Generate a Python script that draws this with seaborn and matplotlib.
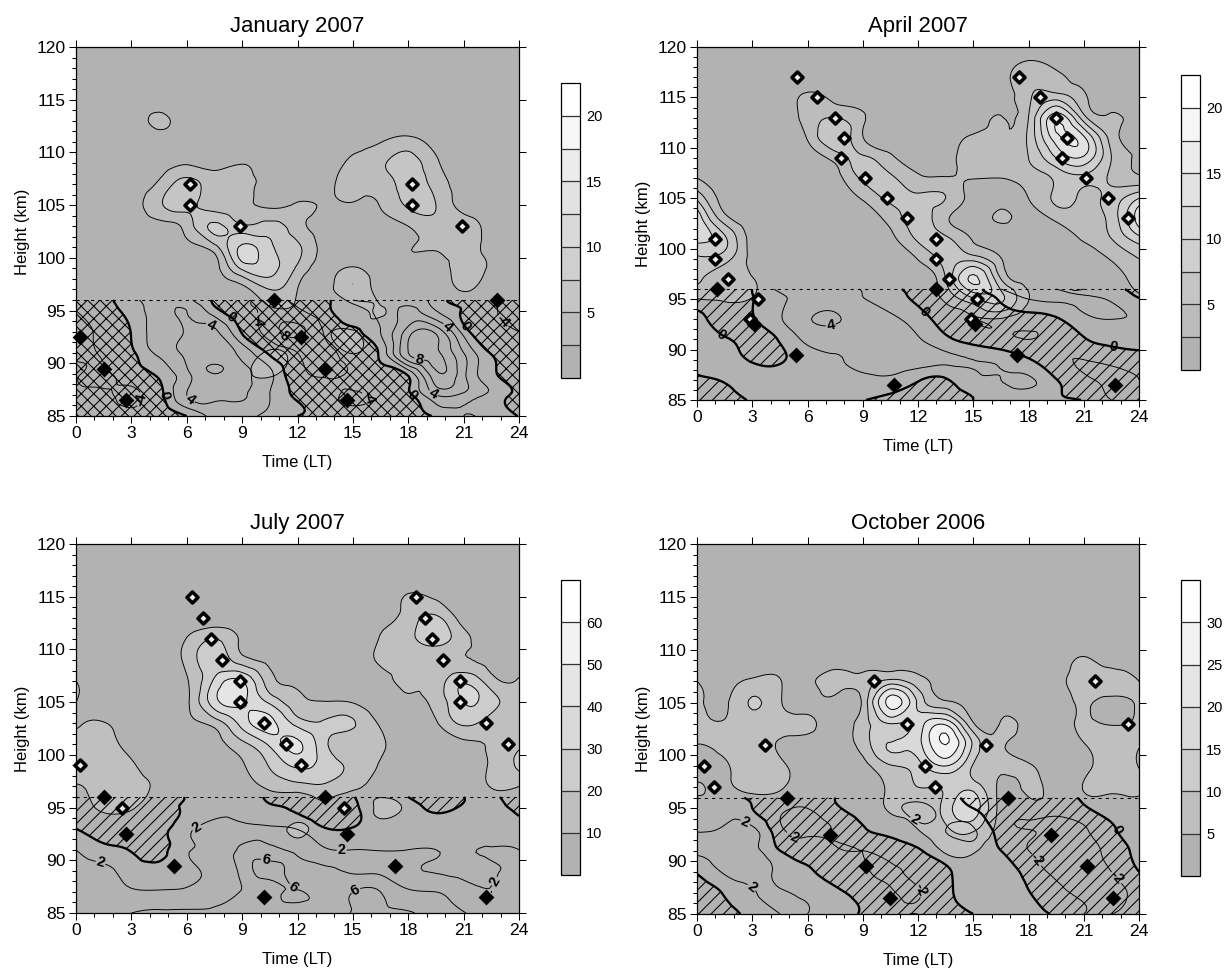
import numpy as np
import seaborn as sns
import matplotlib
matplotlib.use("Agg")
from matplotlib import pyplot as plt
from matplotlib import tri

sns.set_style("ticks", {'text.color': 'black', 'axes.labelcolor': 'black', 'xtick.color': 'black',
                        'ytick.color': 'black', 'axes.edgecolor': 'black'})
plt.rcParams['font.family'] = ['Liberation Sans', 'DejaVu Sans']
plt.rcParams['hatch.linewidth'] = 0.5
plt.rcParams['contour.negative_linestyle'] = 'solid'

hours = [0, 1.5, 3, 4.5, 6, 7.5, 9, 10.5, 12, 13.5, 15, 16.5, 18, 19.5, 21, 22.5, 24]
up_heights = [85, 87, 89, 91, 93, 95, 97, 99, 101, 103, 105, 107, 109, 111, 113, 115, 117, 119, 120]
low_heights = [85, 87, 89, 91, 93, 95, 96]
blank = [1] * 17

# upper fields, rows go from 85 km up to 120 km
jan_up = [
    blank,
    blank,
    [1, 1, 1, 1, 1, 1, 2, 2.8, 1.5, 1, 1, 1, 1, 1, 1, 1, 1],
    [1, 1, 1, 1, 1, 1, 1, 2.8, 1.5, 1, 2.6, 1, 1, 1, 1, 1, 1],
    [1, 1, 1, 1, 1, 1, 1, 1, 1, 2, 2.7, 1, 1, 1, 1, 1, 1],
    [1, 1, 1, 1, 1, 1, 1, 2, 2, 1, 1.5, 2.7, 1, 1, 1, 1, 1],
    [1, 1, 1, 1, 1, 1, 1.5, 5, 2.5, 1, 4.8, 1, 1, 1, 2.7, 1, 1],
    [1, 1, 1, 1, 1, 1.5, 8, 8.5, 4.5, 1.5, 2.8, 1, 1.8, 1.5, 3.5, 2, 1],
    [1, 1, 1, 1, 2, 4, 10.5, 8, 5.5, 1.5, 1, 1, 2.4, 2.7, 3.5, 1.5, 1],
    [1, 1, 1, 1.5, 3.5, 8, 5.5, 6, 3.5, 1.5, 1, 1.5, 2.5, 4, 4, 1.5, 1],
    [1, 1, 1.5, 4.5, 6, 3.5, 2.8, 2, 2.7, 2.3, 2.3, 2.6, 5.5, 5, 1.5, 1, 1],
    [1, 1, 1, 3, 6, 3.5, 3, 1.5, 1, 2, 3, 3.5, 6, 4, 1.5, 1, 1],
    [1, 1, 1, 1, 2.2, 1.5, 2.4, 1, 1, 1.5, 3, 4.5, 6, 3, 1, 1, 1],
    [1, 1, 1, 1, 1, 1, 1, 1, 1, 1, 1.5, 2.4, 3.5, 1.5, 1, 1, 1],
    [1, 1, 1, 3, 1, 1, 1, 1, 1, 1, 1, 1, 1, 1, 1, 1, 1],
    blank, blank, blank, blank,
]
apr_up = [
    blank,
    blank,
    blank,
    blank,
    [1, 1, 1, 1, 1, 1, 1, 1, 1, 1, 2, 2.2, 1, 1, 1, 1, 1],
    [2.4, 2.7, 2.4, 1, 1, 1, 1, 1, 1, 3, 7, 8, 2.6, 1, 1, 1, 2],
    [5.5, 3.5, 2.6, 1, 1, 1, 1, 1, 1.5, 5, 13, 5, 1.5, 1, 1, 1.5, 3.5],
    [7, 6, 1.8, 1, 1, 1, 1, 1, 2.6, 6, 6.5, 2.6, 1, 1, 1.2, 2.7, 5],
    [11, 8, 1.5, 1, 1, 1, 1, 1.8, 5.5, 5.5, 2.2, 1, 1, 1.5, 2.7, 5, 9],
    [12, 3.5, 1, 1, 1, 1, 1, 3.5, 6, 3, 1, 2.8, 1.5, 3, 3.5, 6, 14],
    [7, 1.5, 1, 1, 1, 1, 2.8, 5.5, 5.5, 5, 1.5, 1.5, 2.5, 5.5, 4.5, 6, 10],
    [2.5, 1, 1, 1, 1, 1.5, 5.5, 5.5, 3, 2.7, 2.6, 2.5, 3.5, 5.5, 6.5, 4.5, 3],
    [1, 1, 1, 1, 1.2, 3.5, 5.5, 3, 1.5, 1.6, 4, 3.5, 5, 10, 12, 5, 2.4],
    [1, 1, 1, 1, 2.7, 7, 2.6, 1.5, 1, 1, 3, 2.7, 5.5, 14, 13, 4, 1.8],
    [1, 1, 1, 1, 3.5, 5, 2.8, 1, 1, 1, 1, 2.6, 5, 14, 6, 2.8, 1],
    [1, 1, 1, 1, 3, 1.8, 1, 1, 1, 1, 1, 1.5, 4.5, 6.5, 3, 1.5, 1],
    [1, 1, 1, 1, 1, 1, 1, 1, 1, 1, 1, 1.8, 4, 3.2, 1.5, 1, 1],
    [1, 1, 1, 1, 1, 1, 1, 1, 1, 1, 1, 1, 2, 1, 1, 1, 1],
    blank,
]
bg = [3] * 17
jul_up = [
    bg,
    bg,
    bg,
    bg,
    [3, 3, 3, 3, 3, 3, 3, 3, 12, 3, 3, 6, 3, 3, 3, 3, 3],
    [5, 12, 11, 4, 3, 3, 3, 3, 3, 7, 4, 12, 8, 3, 3, 3, 3],
    [9, 13, 13, 8, 3, 3, 6, 12, 16, 18, 12, 7, 3, 3, 3, 10.5, 10],
    [18, 14, 11, 5, 3, 4, 9, 21, 32, 26, 17, 9, 3, 3, 3, 11.5, 22],
    [18, 14, 7, 3, 3, 6, 17, 32, 42, 22, 14, 11, 5, 4, 7, 11, 18],
    [8, 10.5, 4, 3, 8, 14, 34, 43, 26, 21, 21, 9, 7, 9, 22, 14, 14],
    [10, 3, 3, 3, 8, 36, 42, 28, 13, 10.5, 9.5, 4, 8, 13, 30, 24, 13],
    [10, 3, 3, 3, 9, 32, 40, 14, 8, 3, 5, 7, 12, 14, 28, 14, 11],
    [3, 3, 3, 3, 13, 26, 14, 8, 3, 3, 5, 11, 12, 12, 11, 7, 5],
    [3, 3, 3, 3, 10.5, 20, 8, 3, 3, 3, 4, 10.5, 17, 25, 13, 5, 3],
    [3, 3, 3, 3, 3, 3, 3, 3, 3, 3, 3, 7, 14, 22, 5, 3, 3],
    [3, 3, 3, 3, 3, 3, 3, 3, 3, 3, 3, 3, 11, 8, 3, 3, 3],
    bg, bg, bg,
]
oct_up = [
    bg,
    bg,
    bg,
    [3, 3, 3, 3, 3, 3, 3, 3, 3, 5.5, 5.5, 3, 3, 3, 3, 3, 3],
    [3, 3, 3, 3, 3, 3, 3, 3, 5, 9, 11, 3, 3, 3, 3, 3, 3],
    [3, 3, 3, 3, 3, 3, 3, 5.5, 7, 12, 18, 3, 3, 3, 3, 3, 3],
    [5.5, 4.5, 6, 5.5, 3, 3, 3, 6, 10, 11, 13, 4, 6, 3, 5.2, 6, 6],
    [3, 4.5, 7, 6, 3, 3, 3.5, 9.5, 13, 20, 9.5, 6, 5.5, 3, 3.8, 7, 4.8],
    [4.9, 6, 6, 4.5, 3, 3, 7, 15.5, 18, 30, 14, 5.5, 3, 3, 4.8, 7, 5.2],
    [6, 5.5, 7, 6.5, 6, 3, 7.5, 15, 17, 24, 5.5, 5.3, 3, 3, 5.5, 4.7, 5.5],
    [7, 4, 10.5, 5.5, 3, 3, 6, 27, 14, 6, 3, 3, 3, 3, 5.5, 3.5, 6],
    [5, 3.5, 6, 5.2, 4, 7, 6.5, 12, 7, 3.5, 3, 3, 3, 4, 7, 7.5, 5],
    [3, 3, 3, 3, 3, 3, 3, 3, 3, 3, 3, 3, 3, 3, 5.5, 3, 3],
    bg, bg, bg, bg, bg, bg,
]

# lower fields, rows 85 km to 96 km
jan_low = [
    [-2.5, -3, -3, -2, 0, 2.5, 2.5, 1.5, 0, -1.5, -3, -2.5, -1.5, 0.3, 2, 1.5, -0.1],
    [-3, -3.5, -4.5, -1, 4, 4.5, 4.2, 2, -0.5, -2.5, -4.5, -3, -0.6, 4, 3.5, 1.5, -1],
    [-3.5, -4.5, -2, 0.5, 3.5, 6, 4.5, 2.5, -2.5, -4.5, -3.5, -1.5, 0.5, 7.5, 4.5, 0.5, -2],
    [-5, -3.5, -0.5, 2.5, 4.5, 5.5, 3.3, -0.5, -4, -5, -2.5, 0.5, 8, 8.5, 4, -0.2, -3],
    [-5.5, -3, 0.1, 3, 4.2, 4.5, -0.3, -6, -9, -3.5, -0.3, 2, 7, 7.5, 1.2, -2.5, -4],
    [-4, -1.5, 1, 3, 4, 0.8, -2.5, -5, -4.5, -1, 1.5, 2.5, 4.5, 2, -0.3, -3.5, -5],
    [-3, -0.8, 1.5, 3, 2.5, -0.4, -3, -5, -3, -0.6, 2, 2.5, 3.5, 1.2, -1.5, -4, -5],
]
apr_low = [
    [-1.5, -0.8, 0.2, 1, 1.3, 1.2, 0.1, -0.8, -1, -1, 0, 1, 1.5, 0.5, -0.1, -2, -2],
    [-0.5, 0.2, 1, 1.3, 1.7, 1.9, 1.7, 1.6, 0.2, -0.2, 1.5, 2, 2.3, 0.1, -1.5, -2.5, -2],
    [0.5, 1, -0.3, -0.3, 1.3, 1.9, 2.4, 3, 2.9, 2.4, 2, 1.5, 0.2, -1.5, -2, -1.5, -0.7],
    [1.2, 0.3, -0.8, 0.2, 2.4, 2.7, 2.8, 3, 2.2, 0.5, -0.8, -1.5, -2, -1.5, -0.2, 0.8, 1],
    [1, -1, -0.2, 1.8, 3.8, 4.2, 3.2, 2.4, 1, -1, -2, -1.5, -1, -0.3, 1.5, 2, 2],
    [-1.5, -1.3, -0.1, 1.6, 2.8, 3.2, 2.1, 1.2, -0.5, -1.5, -1.5, 0.3, 2, 2.2, 2.2, 1.8, 0.2],
    [-1.5, -1.5, 0, 2.4, 2.8, 2.7, 1.9, 0.8, -1.2, -2, -1, 2, 2.5, 2, 2, 0.8, -1],
]
jul_low = [
    [3, 3.2, 4, 4.3, 4.3, 4.2, 4.6, 5, 5, 5.3, 6.1, 6.3, 6.2, 5, 4.1, 3, 3],
    [2.8, 2.8, 2.2, 2.2, 2.4, 3.2, 4.1, 5.2, 6.2, 5, 6, 6, 4.3, 4, 2.8, 2, 2.5],
    [2.6, 2.3, 1.2, 0.4, 1.4, 2.5, 4.6, 6.8, 4.8, 4.2, 3.8, 3.6, 2.3, 1.9, 1.5, 1.8, 2.3],
    [2, 0.7, -0.2, -0.8, 1.8, 2.4, 4.4, 4.4, 3.5, 2.2, 2, 1.9, 2, 2, 1.9, 2.1, 2],
    [0, -1.5, -2, -1, 1.5, 2.6, 2.6, 2.4, 1.9, 0.1, 0.1, 1, 1.2, 1.3, 1.7, 1, 0.8],
    [-2, -2, -2, -1.5, 0.5, 1.5, 1.8, 0.3, -0.3, -1.5, -0.5, 1.2, 0.8, -0.4, 0.3, 0.8, -0.8],
    [-1.5, -2, -2, -2, 0.2, 1.2, 1.5, -0.5, -1.5, -1.5, -0.1, 0.8, 0, -1, 0, 0.3, -1.5],
]
oct_low = [
    [-2, -1, 0.8, 2, 2, 1, -0.2, -1.5, -2, -1.2, 0, 1, 0.5, -0.3, -2, -2, -1.8],
    [-1.3, 0.2, 1.8, 2.2, 1.5, 0.5, -0.8, -1.8, -2.1, -0.5, 0.8, 1, 0.1, -1.5, -2.3, -2.4, -1.5],
    [0.2, 2.3, 3, 1.5, 0.2, -0.8, -1.8, -2.2, -1.5, -0.3, 1, 1.2, -0.8, -2.3, -2.5, -2, 0],
    [2.2, 2.8, 2.7, 0, -1, -1.8, -2, -1.5, -0.2, 0.8, 1.5, 0, -2, -2.5, -2.5, -1.4, 0.8],
    [1.8, 2.4, 2.5, -1.5, -2.5, -1.8, -0.2, 0.8, 1.8, 2, 2.2, -1, -2, -2.5, -2.2, -0.4, 1.8],
    [1.2, 1.7, 0, -1.5, -2, -0.4, 1, 1.7, 2.2, 1.5, 0, -1.5, -1.5, -1.5, -0.3, 1, 1.8],
    [0.6, 1.5, -0.6, -1.5, -1.5, 0, 1.4, 1.8, 1.8, 1, -0.8, -1.2, -1.3, -0.7, 0.3, 1.5, 1.5],
]

# diamonds
jan_open = [(6.2, 107), (6.2, 105), (8.9, 103), (18.2, 107), (18.2, 105), (20.9, 103)]
jan_solid = [(0.2, 92.5), (1.5, 89.5), (2.7, 86.5), (10.7, 96), (12.2, 92.5), (13.5, 89.5), (14.7, 86.5), (22.8, 96)]
apr_open = [(1.7, 97), (1, 99), (1, 101), (2.9, 93), (3.3, 95), (5.45, 117), (6.5, 115), (7.5, 113), (8, 111),
            (7.8, 109), (9.1, 107), (10.3, 105), (11.4, 103), (13, 101), (13, 99), (13.7, 97), (15.2, 95), (14.9, 93),
            (17.5, 117), (18.6, 115), (19.5, 113), (20.1, 111), (19.8, 109), (21.1, 107), (22.3, 105), (23.4, 103)]
apr_solid = [(1.1, 96), (3.1, 92.5), (5.4, 89.5), (10.7, 86.5), (13, 96), (15.1, 92.5), (17.4, 89.5), (22.7, 86.5)]
jul_open = [(0.2, 99), (2.5, 95), (6.3, 115), (6.9, 113), (7.3, 111), (7.9, 109), (8.9, 107), (8.9, 105), (10.2, 103),
            (11.4, 101), (12.2, 99), (14.5, 95), (18.4, 115), (18.9, 113), (19.3, 111), (19.9, 109), (20.8, 107),
            (20.8, 105), (22.2, 103), (23.4, 101)]
jul_solid = [(1.5, 96), (2.7, 92.5), (5.3, 89.5), (10.2, 86.5), (13.5, 96), (14.7, 92.5), (17.3, 89.5), (22.2, 86.5)]
oct_open = [(0.4, 99), (0.9, 97), (3.7, 101), (9.6, 107), (11.4, 103), (12.4, 99), (12.9, 97), (15.7, 101), (21.6, 107),
            (23.4, 103)]
oct_solid = [(4.9, 96), (7.2, 92.5), (9.2, 89.5), (10.5, 86.5), (16.9, 96), (19.2, 92.5), (21.2, 89.5), (22.6, 86.5)]

# contour label spots
jan_labels = [(3.7, 86.5), (4.8, 87), (6.2, 86.6), (7.3, 93.6), (8.3, 94), (9.4, 94), (11.3, 93), (18.6, 90.5),
              (19.4, 87.3), (18.2, 87), (16.2, 87), (20.2, 93.6), (21.2, 93.7), (22.6, 93)]
apr_labels = [(1.3, 91.4), (12.4, 93.8), (7.3, 92), (22.6, 90.3)]
jul_labels = [(1.3, 89.6), (6.5, 93.2), (14.4, 90.8), (10.2, 89.2), (11.7, 87.3), (15.1, 87.3), (23.1, 87.6)]
oct_labels = [(2.7, 94), (5.4, 93), (11.5, 93), (2.6, 86.6), (12.3, 87.5), (18.9, 91), (22.5, 88), (23.6, 93.7)]

W, H = 1231, 971
fig = plt.figure(figsize=(W / 150, H / 150), dpi=150)


def px_axes(left, right, top, bottom):
    return fig.add_axes([left / W, 1 - bottom / H, (right - left) / W, (bottom - top) / H])


def smooth(heights, rows):
    # cubic refinement of the read grid so that the contours come out round
    xx, yy = np.meshgrid(hours, heights)
    t = tri.Triangulation(xx.ravel(), yy.ravel())
    refiner = tri.UniformTriRefiner(t)
    return refiner.refine_field(np.array(rows, dtype=float).ravel(), subdiv=3)


def draw_panel(title, box, cbox, up, low, top_level, step, ticks, neg_lines, pos_lines, hatch, spots, open_d, solid_d):
    ax = px_axes(*box)
    ax.set_facecolor('#b2b2b2')
    levels = np.arange(0, top_level + step / 2, step)
    greys = sns.blend_palette(['#b2b2b2', '#ffffff'], len(levels) - 1)
    t_up, z_up = smooth(up_heights, up)
    cf = ax.tricontourf(t_up, z_up, levels=levels, colors=greys)
    ax.tricontour(t_up, z_up, levels=levels[1:], colors='black', linewidths=0.45)

    t_low, z_low = smooth(low_heights, low)
    hatched = ax.tricontourf(t_low, z_low, levels=[-100, 0], colors='none', hatches=[hatch])
    hatched.set_edgecolor('black')
    hatched.set_linewidth(0)
    lines = ax.tricontour(t_low, z_low, levels=neg_lines + [0] + pos_lines, colors='black', linewidths=0.45)
    lab = ax.clabel(lines, fmt='%d', fontsize=7, inline=True, inline_spacing=1, manual=spots)
    for t in lab:
        t.set_fontweight('bold')
    ax.tricontour(t_low, z_low, levels=[0], colors='black', linewidths=1.1)
    ax.plot([0, 24], [96, 96], color='black', lw=0.5, dashes=(3, 4))

    o = np.array(open_d)
    s = np.array(solid_d)
    sns.scatterplot(x=o[:, 0], y=o[:, 1], marker='D', s=14, color='#eeeeee', edgecolor='black', linewidth=1.7,
                    ax=ax, legend=False, zorder=5, clip_on=False)
    sns.scatterplot(x=s[:, 0], y=s[:, 1], marker='D', s=29, color='black', edgecolor='black', linewidth=0,
                    ax=ax, legend=False, zorder=5, clip_on=False)

    ax.set_xlim(0, 24)
    ax.set_ylim(85, 120)
    ax.set_xticks(np.arange(0, 25, 3))
    ax.set_xticks(np.arange(0, 25, 1), minor=True)
    ax.set_yticks(np.arange(85, 121, 5))
    ax.set_yticks(np.arange(85, 121, 1), minor=True)
    ax.tick_params(axis='both', which='major', labelsize=8.4, length=3.4, width=0.5, pad=1.5,
                   top=True, right=True)
    ax.tick_params(axis='both', which='minor', length=2, width=0.5, top=False, right=False)
    for sp in ax.spines.values():
        sp.set_linewidth(0.6)
    ax.set_title(title, fontsize=10.6, pad=7)
    ax.set_xlabel('Time (LT)', fontsize=8, labelpad=6.5)
    ax.set_ylabel('Height (km)', fontsize=8, labelpad=3)

    cax = px_axes(*cbox)
    cb = fig.colorbar(cf, cax=cax, ticks=ticks, drawedges=True)
    cb.dividers.set_linewidth(0.6)
    cb.dividers.set_color('#333333')
    cb.outline.set_linewidth(0.6)
    cax.tick_params(length=0, labelsize=7, pad=3)


draw_panel('January 2007', (76, 519, 47, 416), (561, 580, 83, 378), jan_up, jan_low, 22.5, 2.5, [5, 10, 15, 20],
           [-8, -4], [2, 4, 6, 8], '////\\\\\\\\', jan_labels, jan_open, jan_solid)
draw_panel('April 2007', (697, 1139, 47, 400), (1181, 1200, 75, 370), apr_up, apr_low, 22.5, 2.5, [5, 10, 15, 20],
           [-2], [2, 4], '////', apr_labels, apr_open, apr_solid)
draw_panel('July 2007', (76, 519, 544, 913), (561, 580, 580, 875), jul_up, jul_low, 70, 10, [10, 20, 30, 40, 50, 60],
           [-4], [2, 4, 6], '////', jul_labels, jul_open, jul_solid)
draw_panel('October 2006', (697, 1139, 544, 914), (1181, 1200, 580, 876), oct_up, oct_low, 35, 5,
           [5, 10, 15, 20, 25, 30], [-2], [2, 4], '////', oct_labels, oct_open, oct_solid)

fig.savefig('out.png', dpi=150)
